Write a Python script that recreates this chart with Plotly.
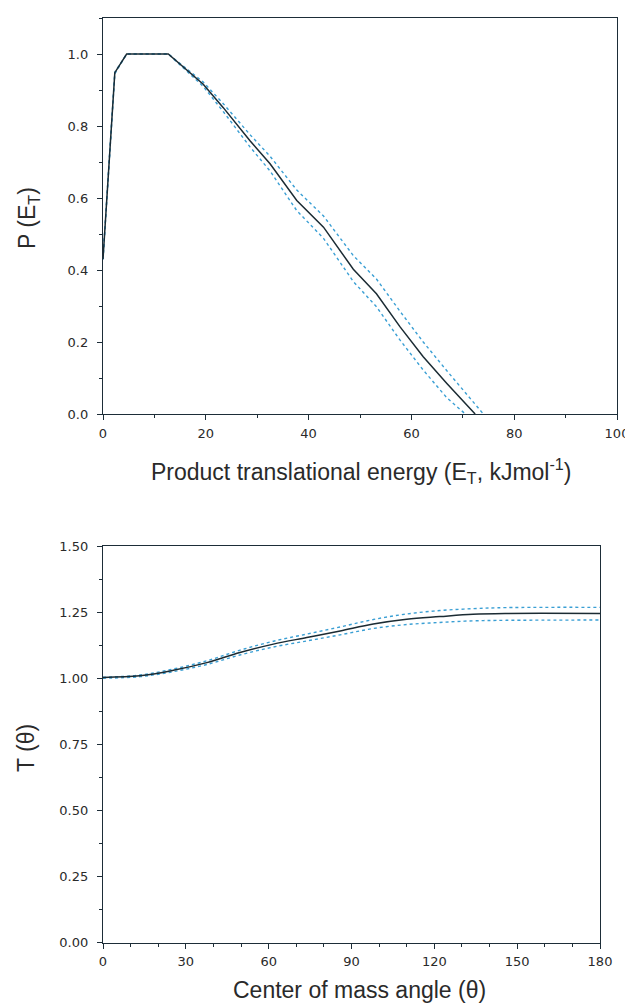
import plotly.graph_objects as go

# --- Top panel: P(E_T) ---
pe_x = [0, 2.3, 4.6, 12.7, 19.5, 23.4, 28.6, 32.5, 37.7, 42.9, 48.7, 53.2, 57.8, 62.3, 66.9, 70.4, 72.4]
pe_y = [0.43, 0.948, 1.0, 1.0, 0.916, 0.851, 0.759, 0.695, 0.593, 0.519, 0.402, 0.334, 0.242, 0.159, 0.085, 0.03, 0.0]
pe_up_x = [0, 2.3, 4.6, 12.7, 19.5, 23.4, 28.6, 32.5, 37.7, 42.9, 48.7, 53.2, 57.8, 62.3, 66.9, 70.4, 74.0]
pe_up_y = [0.43, 0.95, 1.0, 1.0, 0.922, 0.862, 0.776, 0.716, 0.622, 0.55, 0.44, 0.375, 0.285, 0.2, 0.12, 0.062, 0.0]
pe_lo_x = [0, 2.3, 4.6, 12.7, 19.5, 23.4, 28.6, 32.5, 37.7, 42.9, 48.7, 53.2, 57.8, 62.3, 66.9, 70.5]
pe_lo_y = [0.43, 0.945, 1.0, 1.0, 0.91, 0.84, 0.742, 0.675, 0.565, 0.488, 0.368, 0.298, 0.205, 0.122, 0.045, 0.0]

# --- Bottom panel: T(theta) ---
t_x = [0, 13.4, 25.5, 37.6, 49.6, 61.7, 73.8, 85.9, 97.9, 110, 122, 134, 146, 180]
t_y = [1.003, 1.009, 1.03, 1.059, 1.097, 1.129, 1.154, 1.179, 1.205, 1.223, 1.233, 1.242, 1.245, 1.245]
t_up_y = [1.004, 1.012, 1.035, 1.066, 1.106, 1.14, 1.167, 1.194, 1.222, 1.243, 1.256, 1.263, 1.267, 1.268]
t_lo_y = [1.0, 1.006, 1.025, 1.052, 1.088, 1.118, 1.141, 1.164, 1.188, 1.203, 1.211, 1.217, 1.219, 1.22]

# The page body has an 8px margin; the figure covers the rest of the 633x1004 window.
OFF = 8
W, H = 633 - OFF, 1004 - OFF


def xp(px):
    return (px - OFF) / W


def yp(py):
    return 1 - (py - OFF) / H


solid_col = "#1b2b33"
dot_col = "#3a9fd4"
axis_col = "#1d2d38"
txt_col = "#2a2a2a"
title_fam = "Arial, Liberation Sans, sans-serif"
tick_fam = "DejaVu Sans, Arial, sans-serif"

fig = go.Figure()
fig.add_trace(go.Scatter(x=pe_up_x, y=pe_up_y, mode="lines", line=dict(color=dot_col, width=1.4, dash="dot"),
                         xaxis="x", yaxis="y", showlegend=False))
fig.add_trace(go.Scatter(x=pe_lo_x, y=pe_lo_y, mode="lines", line=dict(color=dot_col, width=1.4, dash="dot"),
                         xaxis="x", yaxis="y", showlegend=False))
fig.add_trace(go.Scatter(x=pe_x, y=pe_y, mode="lines", line=dict(color=solid_col, width=1.5),
                         xaxis="x", yaxis="y", showlegend=False))

fig.add_trace(go.Scatter(x=t_x, y=t_up_y, mode="lines", line=dict(color=dot_col, width=1.4, dash="dot", shape="spline"),
                         xaxis="x2", yaxis="y2", showlegend=False))
fig.add_trace(go.Scatter(x=t_x, y=t_lo_y, mode="lines", line=dict(color=dot_col, width=1.4, dash="dot", shape="spline"),
                         xaxis="x2", yaxis="y2", showlegend=False))
fig.add_trace(go.Scatter(x=t_x, y=t_y, mode="lines", line=dict(color=solid_col, width=1.5, shape="spline"),
                         xaxis="x2", yaxis="y2", showlegend=False))


def ax(minor_dtick, standoff, **kw):
    base = dict(showgrid=False, zeroline=False, showline=True, linecolor=axis_col, linewidth=1.3,
                mirror=True, ticks="outside", ticklen=5, tickwidth=1.1, tickcolor=axis_col,
                automargin=False, ticklabelstandoff=standoff,
                tickfont=dict(family=tick_fam, size=13, color=txt_col),
                minor=dict(ticks="outside", ticklen=3, tickwidth=1, tickcolor=axis_col, dtick=minor_dtick))
    base.update(kw)
    return base


fig.update_layout(
    width=W, height=H, margin=dict(l=0, r=0, t=0, b=0, autoexpand=False),
    paper_bgcolor="white", plot_bgcolor="white",
    xaxis=ax(10, 2, domain=[xp(103), xp(617)], range=[0, 100], tick0=0, dtick=20, anchor="y"),
    yaxis=ax(0.1, 6, domain=[yp(414), yp(18)], range=[0, 1.1], tick0=0, dtick=0.2, tickformat=".1f",
             anchor="x"),
    xaxis2=ax(10, 2, domain=[xp(103), xp(600)], range=[0, 180], tick0=0, dtick=30, anchor="y2"),
    yaxis2=ax(0.125, 6, domain=[yp(942.7), yp(546)], range=[0, 1.5], tick0=0, dtick=0.25, tickformat=".2f",
              anchor="x2"),
)

title_font = dict(family=title_fam, size=23, color=txt_col)
fig.add_annotation(text="Product translational energy (E<sub>T</sub>, kJmol<sup>-1</sup>)",
                   x=xp(361), y=yp(471), xref="paper", yref="paper", showarrow=False,
                   font=title_font, xanchor="center", yanchor="middle")
fig.add_annotation(text="P (E<sub>T</sub>)", x=xp(29), y=yp(218), xref="paper", yref="paper",
                   showarrow=False, textangle=-90, font=title_font, xanchor="center", yanchor="middle")
fig.add_annotation(text="Center of mass angle (θ)", x=xp(359), y=yp(990), xref="paper", yref="paper",
                   showarrow=False, font=title_font, xanchor="center", yanchor="middle")
fig.add_annotation(text="T (θ)", x=xp(26), y=yp(748), xref="paper", yref="paper",
                   showarrow=False, textangle=-90, font=title_font, xanchor="center", yanchor="middle")

fig.write_html("out.html")
